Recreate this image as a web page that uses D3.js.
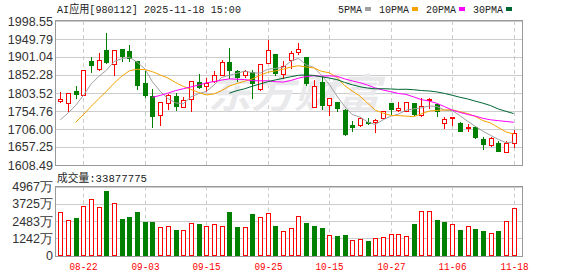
<!DOCTYPE html>
<html>
<head>
<meta charset="utf-8">
<script src="https://cdn.jsdelivr.net/npm/d3@7"></script>
<style>
    body { margin: 0; background: #fff; }
    svg text { font-family: "Liberation Sans", Arial, sans-serif; }
    .mono { font-family: "Liberation Mono", "Noto Sans CJK SC", monospace; }
</style>
</head>
<body>
<div id="chart"></div>
<script>
// trading days shown on the chart
const dates = ['08-19', '08-20', '08-21', '08-22', '08-25', '08-26', '08-27', '08-28', '08-29', '09-01',
    '09-02', '09-03', '09-04', '09-05', '09-08', '09-09', '09-10', '09-11', '09-12', '09-15',
    '09-16', '09-17', '09-18', '09-19', '09-22', '09-23', '09-24', '09-25', '09-26', '09-29',
    '09-30', '10-09', '10-10', '10-13', '10-14', '10-15', '10-16', '10-17', '10-20', '10-21',
    '10-22', '10-23', '10-24', '10-27', '10-28', '10-29', '10-30', '10-31', '11-03', '11-04',
    '11-05', '11-06', '11-07', '11-10', '11-11', '11-12', '11-13', '11-14', '11-17', '11-18']

const open = [1782, 1776, 1809, 1799, 1891, 1869, 1920, 1882, 1922, 1917,
    1890, 1831, 1796, 1745, 1776, 1795, 1766, 1788, 1832, 1822,
    1835, 1853, 1888, 1862, 1853, 1860, 1814, 1885, 1909, 1856,
    1892, 1914, 1900, 1765, 1833, 1772, 1779, 1758, 1718, 1716,
    1725, 1725, 1736, 1776, 1758, 1756, 1776, 1745, 1784, 1774,
    1723, 1736, 1721, 1708, 1711, 1680, 1664, 1667, 1643, 1667]

const high = [1806, 1804, 1822, 1867, 1900, 1912, 1966, 1920, 1923, 1934,
    1891, 1864, 1814, 1779, 1802, 1803, 1794, 1836, 1855, 1844,
    1862, 1893, 1925, 1867, 1867, 1867, 1883, 1948, 1910, 1889,
    1916, 1939, 1901, 1840, 1849, 1791, 1780, 1759, 1727, 1738,
    1735, 1734, 1755, 1776, 1778, 1779, 1777, 1790, 1790, 1775,
    1739, 1739, 1724, 1720, 1713, 1684, 1683, 1673, 1673, 1704]

const low = [1778, 1754, 1790, 1798, 1860, 1866, 1886, 1851, 1891, 1891,
    1815, 1794, 1711, 1718, 1761, 1758, 1765, 1756, 1817, 1810,
    1834, 1852, 1844, 1835, 1846, 1790, 1812, 1884, 1853, 1844,
    1871, 1909, 1826, 1765, 1761, 1745, 1754, 1690, 1700, 1713,
    1720, 1699, 1735, 1745, 1754, 1755, 1745, 1740, 1763, 1740,
    1709, 1716, 1701, 1700, 1682, 1653, 1661, 1647, 1643, 1658]

const close = [1787, 1803, 1801, 1866, 1880, 1892, 1887, 1919, 1905, 1898,
    1826, 1797, 1742, 1778, 1799, 1768, 1785, 1835, 1821, 1831,
    1853, 1888, 1865, 1847, 1862, 1830, 1882, 1919, 1858, 1876,
    1912, 1922, 1831, 1823, 1770, 1790, 1763, 1692, 1711, 1736,
    1722, 1731, 1754, 1760, 1763, 1778, 1747, 1768, 1787, 1754,
    1732, 1738, 1701, 1712, 1684, 1665, 1682, 1647, 1667, 1694]

// volume in 万
const volume = [3110, 2534, 2700, 3542, 4046, 3470, 4643, 3758, 2628, 2772,
    3132, 2412, 2412, 2030, 2102, 1836, 1814, 2318, 2268, 2102,
    2246, 2102, 3132, 2052, 2030, 2988, 2750, 3038, 2124, 1742,
    1958, 2822, 2340, 2124, 2001, 1454, 1404, 1476, 1094, 1166,
    1044, 1260, 1332, 1526, 1526, 1404, 2268, 3182, 3182, 2556,
    2412, 2246, 1836, 2102, 1908, 1764, 1598, 1764, 2462, 3388]

const ma5 = [1731, 1749, 1770, 1797, 1827.4, 1848.4, 1865.2, 1888.8, 1896.6, 1900.2,
    1887.0, 1869.0, 1833.6, 1808.2, 1788.4, 1776.8, 1774.4, 1793.0, 1801.6, 1808.0,
    1825.0, 1845.6, 1851.6, 1856.8, 1863.0, 1858.4, 1857.2, 1868.0, 1870.2, 1873.0,
    1889.4, 1897.4, 1879.8, 1872.8, 1851.6, 1827.2, 1795.4, 1767.6, 1745.2, 1738.4,
    1724.8, 1718.4, 1730.8, 1740.6, 1746.0, 1757.2, 1760.4, 1763.2, 1768.6, 1766.8,
    1757.6, 1755.8, 1742.4, 1727.4, 1713.4, 1700.0, 1688.8, 1678.0, 1669.0, 1671.0]

const ma10 = [null, null, 1724, 1745, 1767, 1788, 1808, 1830, 1849, 1863.8,
    1867.7, 1867.1, 1861.2, 1852.4, 1844.3, 1831.9, 1821.7, 1813.3, 1804.9, 1798.2,
    1800.9, 1810.0, 1822.3, 1829.2, 1835.5, 1841.7, 1851.4, 1859.8, 1863.5, 1868.0,
    1873.9, 1877.3, 1873.9, 1871.5, 1862.3, 1858.3, 1846.4, 1823.7, 1809.0, 1795.0,
    1776.0, 1756.9, 1749.2, 1742.9, 1742.2, 1741.0, 1739.4, 1747.0, 1754.6, 1756.4,
    1757.4, 1758.1, 1752.8, 1748.0, 1740.1, 1728.8, 1722.3, 1710.2, 1698.2, 1692.2]

const ma20 = [null, null, null, null, null, null, null, null, null, null,
    null, null, 1792, 1797, 1803, 1810, 1815, 1820, 1825, 1831.0,
    1834.3, 1838.6, 1841.8, 1840.8, 1839.9, 1836.8, 1836.6, 1836.6, 1834.2, 1833.1,
    1837.4, 1843.7, 1848.1, 1850.4, 1848.9, 1850.0, 1848.9, 1841.8, 1836.3, 1831.5,
    1825.0, 1817.1, 1811.6, 1807.2, 1802.3, 1799.7, 1792.9, 1785.4, 1781.8, 1775.7,
    1766.7, 1757.5, 1751.0, 1745.5, 1741.2, 1734.9, 1730.9, 1728.6, 1726.4, 1724.3]

const ma30 = [null, null, null, null, null, null, null, null, null, null,
    null, null, null, null, null, null, null, null, null, null,
    null, null, 1803, 1810, 1815, 1822, 1828, 1834, 1839, 1843.3,
    1847.5, 1851.5, 1852.5, 1851.0, 1847.4, 1844.0, 1839.8, 1832.3, 1825.8, 1820.4,
    1816.9, 1814.7, 1815.1, 1814.5, 1813.3, 1813.7, 1812.4, 1810.2, 1809.0, 1806.5,
    1802.4, 1797.4, 1792.0, 1787.5, 1781.5, 1776.0, 1769.4, 1760.3, 1753.9, 1747.9]

const priceTicks = [1998.55, 1949.79, 1901.04, 1852.28, 1803.52, 1754.76, 1706.00, 1657.25, 1608.49]
const volTicks = [4967, 3725, 2483, 1242, 0]
const volTickLabels = ['4967万', '3725万', '2483万', '1242万', '0']
const dateTicks = ['08-22', '09-03', '09-15', '09-25', '10-15', '10-27', '11-06', '11-18']
const maNames = ['5PMA', '10PMA', '20PMA', '30PMA']
const titleText = 'AI应用[980112] 2025-11-18 15:00'
const volTitle = '成交量:33877775'

const red = '#ff0000'
const green = '#008000'
const maColors = ['#a0a0a0', '#f5a300', '#ff00ff', '#006633']

const box = { left: 56, right: 522, top: 21, bottom: 165, volTop: 186.5, volBottom: 255.5 }

let svg = d3.select('#chart').append('svg')
    .attr('width', 578)
    .attr('height', 276)

let x = d3.scaleLinear()
    .domain([0, dates.length - 1])
    .range([60.3, 513.6])

let y = d3.scaleLinear()
    .domain([priceTicks[priceTicks.length - 1], priceTicks[0]])
    .range([box.bottom, box.top])

let yv = d3.scaleLinear()
    .domain([0, volTicks[0]])
    .range([box.volBottom, box.volTop])

let px = (v) => Math.round(v) + 0.5

// horizontal grid, price panel
svg.append('g')
    .selectAll('line')
    .data(priceTicks)
    .join('line')
    .attr('x1', box.left).attr('x2', box.right)
    .attr('y1', d => px(y(d))).attr('y2', d => px(y(d)))
    .attr('stroke', '#cccccc')

// horizontal grid, volume panel
svg.append('g')
    .selectAll('line')
    .data(volTicks)
    .join('line')
    .attr('x1', box.left).attr('x2', box.right)
    .attr('y1', d => px(yv(d))).attr('y2', d => px(yv(d)))
    .attr('stroke', '#cccccc')

// vertical dashed grid at the labelled dates
let tickIdx = dateTicks.map(d => dates.indexOf(d))
let vgrid = svg.append('g')
vgrid.selectAll('.vp')
    .data(tickIdx)
    .join('line')
    .attr('x1', d => px(x(d))).attr('x2', d => px(x(d)))
    .attr('y1', box.top).attr('y2', box.bottom)
    .attr('stroke', '#cccccc')
    .attr('stroke-dasharray', '4,3')
vgrid.selectAll('.vv')
    .data(tickIdx)
    .join('line')
    .attr('x1', d => px(x(d))).attr('x2', d => px(x(d)))
    .attr('y1', box.volTop).attr('y2', box.volBottom)
    .attr('stroke', '#cccccc')
    .attr('stroke-dasharray', '4,3')

// watermark
svg.append('text')
    .attr('x', 208)
    .attr('y', 108)
    .attr('textLength', 172)
    .attr('lengthAdjust', 'spacingAndGlyphs')
    .style('font-family', '"Noto Sans CJK SC", sans-serif')
    .style('font-size', '40px')
    .style('font-weight', 'bold')
    .style('font-style', 'italic')
    .attr('fill', '#e9e9eb')
    .text('东方财富')

// frames
svg.append('rect')
    .attr('x', box.left - 0.5).attr('y', box.top - 0.5)
    .attr('width', box.right - box.left + 1).attr('height', box.bottom - box.top + 1)
    .attr('fill', 'none').attr('stroke', '#999999')
svg.append('rect')
    .attr('x', box.left - 0.5).attr('y', Math.round(box.volTop) - 0.5)
    .attr('width', box.right - box.left + 1).attr('height', Math.round(box.volBottom) - Math.round(box.volTop) + 1)
    .attr('fill', 'none').attr('stroke', '#999999')

let bars = dates.map((d, i) => ({
    i: i,
    o: open[i],
    h: high[i],
    l: low[i],
    c: close[i],
    v: volume[i],
    up: close[i] >= open[i],
    volUp: i === 0 ? true : close[i] >= close[i - 1]
}))

// candles
let candles = svg.append('g')
candles.selectAll('line')
    .data(bars)
    .join('line')
    .attr('x1', d => px(x(d.i))).attr('x2', d => px(x(d.i)))
    .attr('y1', d => Math.round(y(d.h))).attr('y2', d => Math.round(y(d.l)) + 1)
    .attr('stroke', d => d.up ? red : green)

candles.selectAll('rect')
    .data(bars)
    .join('rect')
    .each(function(d) {
        let cx = Math.round(x(d.i))
        let top = Math.round(y(Math.max(d.o, d.c)))
        let bot = Math.round(y(Math.min(d.o, d.c)))
        let r = d3.select(this)
        if (d.up) {
            r.attr('x', cx - 1.5).attr('y', top + 0.5)
                .attr('width', 4).attr('height', Math.max(0, bot - top))
                .attr('fill', '#fff').attr('stroke', red)
        } else {
            r.attr('x', cx - 2).attr('y', top)
                .attr('width', 5).attr('height', Math.max(1, bot - top + 1))
                .attr('fill', green)
        }
    })

// moving averages
let line = d3.line()
    .defined(d => d !== null)
    .x((d, i) => x(i))
    .y(d => y(d))

svg.append('g')
    .selectAll('path')
    .data([ma5, ma10, ma20, ma30])
    .join('path')
    .attr('d', line)
    .attr('fill', 'none')
    .attr('stroke', (d, i) => maColors[i])
    .attr('stroke-width', 1)

// volume bars
svg.append('g')
    .selectAll('rect')
    .data(bars)
    .join('rect')
    .each(function(d) {
        let cx = Math.round(x(d.i))
        let top = Math.round(yv(d.v))
        let bot = Math.round(box.volBottom)
        let r = d3.select(this)
        if (d.volUp) {
            r.attr('x', cx - 1.5).attr('y', top + 0.5)
                .attr('width', 4).attr('height', bot - top - 1)
                .attr('fill', '#fff').attr('stroke', red)
        } else {
            r.attr('x', cx - 2).attr('y', top)
                .attr('width', 5).attr('height', bot - top)
                .attr('fill', green)
        }
    })

// axis labels
svg.append('g')
    .selectAll('text')
    .data(priceTicks)
    .join('text')
    .attr('x', 53)
    .attr('y', d => y(d) + 4.5)
    .attr('text-anchor', 'end')
    .style('font-size', '12.5px')
    .attr('fill', '#333')
    .text(d => d.toFixed(2))

svg.append('g')
    .selectAll('text')
    .data(volTicks)
    .join('text')
    .attr('x', 53)
    .attr('y', d => yv(d) + 4.5)
    .attr('text-anchor', 'end')
    .style('font-size', '12.5px')
    .attr('fill', '#333')
    .text((d, i) => volTickLabels[i])

svg.append('g')
    .selectAll('text')
    .data(dateTicks)
    .join('text')
    .attr('class', 'mono')
    .attr('x', d => px(x(dates.indexOf(d))))
    .attr('y', 269.5)
    .attr('text-anchor', 'middle')
    .attr('textLength', 28)
    .attr('lengthAdjust', 'spacingAndGlyphs')
    .style('font-size', '11.5px')
    .attr('fill', red)
    .text(d => d)

// titles
svg.append('text')
    .attr('class', 'mono')
    .attr('x', 57).attr('y', 13)
    .attr('textLength', 184)
    .attr('lengthAdjust', 'spacingAndGlyphs')
    .style('font-size', '11.5px')
    .attr('fill', '#222')
    .text(titleText)

svg.append('text')
    .attr('class', 'mono')
    .attr('x', 57).attr('y', 182)
    .attr('textLength', 90)
    .attr('lengthAdjust', 'spacingAndGlyphs')
    .style('font-size', '11.5px')
    .attr('fill', '#222')
    .text(volTitle)

// legend
let legend = svg.append('g')
let lx = 338
maNames.forEach((name, i) => {
    let tw = name.length * 6
    legend.append('text')
        .attr('class', 'mono')
        .attr('x', lx).attr('y', 13)
        .attr('textLength', tw)
        .attr('lengthAdjust', 'spacingAndGlyphs')
        .style('font-size', '11.5px')
        .attr('fill', '#222')
        .text(name)
    legend.append('rect')
        .attr('x', lx + tw + 3).attr('y', 7)
        .attr('width', 6).attr('height', 4)
        .attr('fill', maColors[i])
    lx = lx + tw + 3 + 6 + 8
})
</script>
</body>
</html>
